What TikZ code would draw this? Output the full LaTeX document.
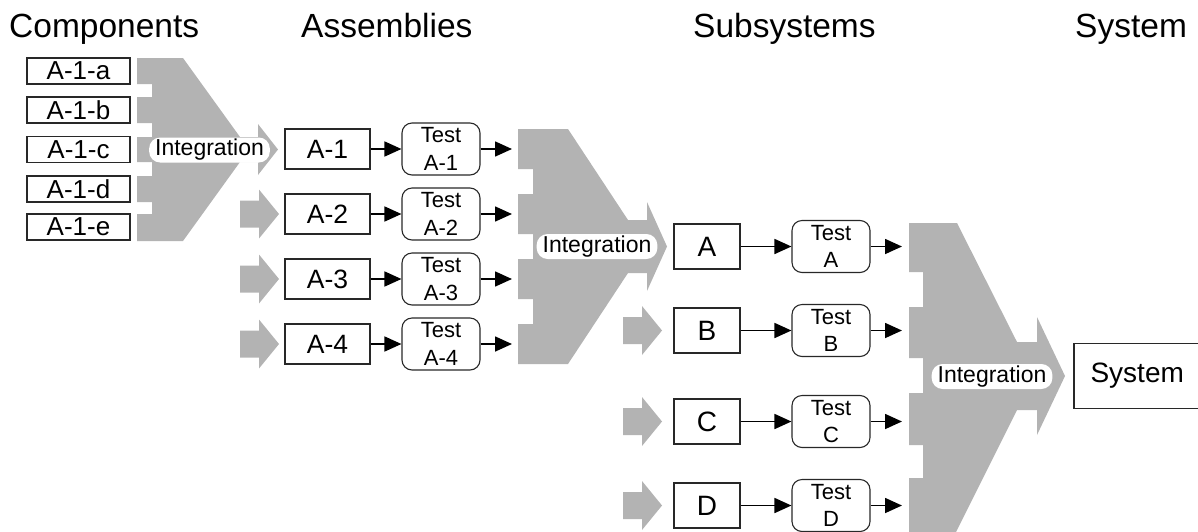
\documentclass[tikz,border=0pt]{standalone}
\usepackage{fontspec}
\setmainfont{Liberation Sans}
\usetikzlibrary{arrows.meta}
\definecolor{funnelgray}{RGB}{179,179,179}
\definecolor{edgegray}{RGB}{40,40,40}

\tikzset{
  title/.style={anchor=base west,inner sep=0pt,font=\fontsize{33.5}{40}\selectfont},
  box/.style={draw=edgegray,line width=1.1pt,inner sep=0pt,fill=white},
  boxedge/.style={draw=edgegray,line width=1.1pt},
  compbox/.style={box,minimum width=103pt,minimum height=26pt,font=\fontsize{26}{30}\selectfont},
  asmbox/.style={box,minimum width=85pt,minimum height=40pt,font=\fontsize{26.5}{30}\selectfont},
  subbox/.style={box,minimum width=66pt,minimum height=45pt,font=\fontsize{28}{32}\selectfont},
  sysbox/.style={inner sep=0pt,minimum width=140pt,minimum height=65pt,font=\fontsize{28}{32}\selectfont},
  testbox/.style={box,rounded corners=10pt,minimum width=78pt,minimum height=52pt,
    align=center,font=\fontsize{22}{27.5}\selectfont},
  pill/.style={fill=white,rounded corners=11pt,inner xsep=6pt,inner ysep=0pt,
    minimum height=25pt,font=\fontsize{23}{27}\selectfont},
  conn/.style={-{Triangle[length=17pt,width=15pt]},line width=1.6pt,black},
  feed/.pic={\fill[funnelgray] (0,-13.5) -- (19,-13.5) -- (19,-24.5) -- (39,0)
    -- (19,24.5) -- (19,13.5) -- (0,13.5) -- cycle;}
}

\begin{document}
\begin{tikzpicture}[x=1pt,y=-1pt]
\useasboundingbox (0,0) rectangle (1198,531);

% column headings
\node[title] (hcomp) at (9,37) {Components};
\node[title] (hasm) at (301,37) {Assemblies};
\node[title] (hsub) at (693,37) {Subsystems};
\node[title] (hsys) at (1075,37) {System};

% integration funnels
\fill[funnelgray] (137,58) -- (183,58) -- (240,137) -- (258,137) -- (258,124)
  -- (278,149.5) -- (258,175) -- (258,162) -- (240,162) -- (183,241) -- (137,241)
  -- (137,214) -- (152,214) -- (152,202) -- (137,202) -- (137,176) -- (152,176)
  -- (152,162) -- (137,162) -- (137,137) -- (152,137) -- (152,123) -- (137,123)
  -- (137,97) -- (152,97) -- (152,84) -- (137,84) -- cycle;
\fill[funnelgray] (518,129) -- (568,129) -- (628,220) -- (647,220) -- (647,202)
  -- (667,246.5) -- (647,291) -- (647,273) -- (628,273) -- (568,364) -- (518,364)
  -- (518,324) -- (533,324) -- (533,299) -- (518,299) -- (518,259) -- (533,259)
  -- (533,234) -- (518,234) -- (518,194) -- (533,194) -- (533,169) -- (518,169) -- cycle;
\fill[funnelgray] (909,223) -- (957,223) -- (1017,342) -- (1037,342) -- (1037,317)
  -- (1065,376) -- (1037,435) -- (1037,410) -- (1017,410) -- (956,532) -- (909,532)
  -- (909,478) -- (923,478) -- (923,445) -- (909,445) -- (909,393) -- (923,393)
  -- (923,358) -- (909,358) -- (909,307) -- (923,307) -- (923,272) -- (909,272) -- cycle;

\node[pill] (int1) at (209.5,150) {Integration};
\node[pill] (int2) at (597,246.5) {Integration};
\node[pill] (int3) at (992,376.5) {Integration};

% feed arrows for the parallel branches
\pic at (240,214) {feed};
\pic at (240,279) {feed};
\pic at (240,344) {feed};
\pic at (623,330.5) {feed};
\pic at (623,421.5) {feed};
\pic at (623,505.5) {feed};

% components
\node[compbox] (ca) at (78.5,71) {A-1-a};
\node[compbox] (cb) at (78.5,110) {A-1-b};
\node[compbox] (cc) at (78.5,149.5) {A-1-c};
\node[compbox] (cd) at (78.5,189) {A-1-d};
\node[compbox] (ce) at (78.5,227) {A-1-e};

% assemblies and their tests
\foreach \n/\y in {1/149,2/214,3/279,4/344}{
  \node[asmbox] (a\n) at (327.5,\y) {A-\n};
  \node[testbox] (ta\n) at (441,\y) {Test\\A-\n};
  \coordinate (oa\n) at (512,\y);
  \draw[conn] (a\n) -- (ta\n);
  \draw[conn] (ta\n) -- (oa\n);
}

% subsystems and their tests
\foreach \n/\y in {A/246.5,B/330.5,C/421.5,D/505.5}{
  \node[subbox] (s\n) at (707,\y) {\n};
  \node[testbox] (ts\n) at (831,\y) {Test\\\n};
  \coordinate (os\n) at (902,\y);
  \draw[conn] (s\n) -- (ts\n);
  \draw[conn] (ts\n) -- (os\n);
}

% system: the box runs on past the right margin, so its right side is open
\node[sysbox,anchor=west] (sys) at (1074,376) {System\hspace*{14pt}};
\draw[boxedge] (sys.north east) -- (sys.north west) -- (sys.south west) -- (sys.south east);
\end{tikzpicture}
\end{document}
